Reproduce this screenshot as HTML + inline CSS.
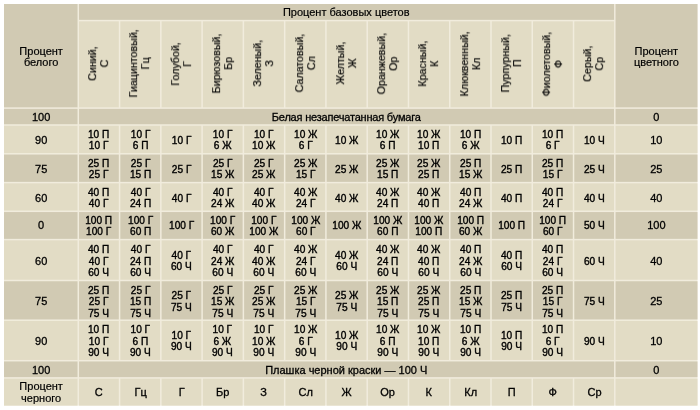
<!DOCTYPE html>
<html><head><meta charset="utf-8"><style>
html,body{margin:0;padding:0;background:#fff;width:700px;height:410px;overflow:hidden}
.t{position:absolute;display:flex;align-items:center;justify-content:center;text-align:center;font-family:"Liberation Sans",sans-serif;font-size:11px;line-height:11.5px;color:#000;white-space:nowrap;-webkit-text-stroke:0.4px #000;will-change:transform}
.r{transform:rotate(-90deg)}
.s{display:inline-block;transform:scaleX(0.92)}
.r{-webkit-text-stroke:0.2px #000}
.rs{display:inline-block;transform:translateX(1px) scaleX(0.97)}
</style></head><body>
<svg width="700" height="410" viewBox="0 0 700 410" style="position:absolute;left:0;top:0"><rect x="4.0" y="4.0" width="693.50" height="401.60" fill="#f1ecdd"/><rect x="4.00" y="4.00" width="73.55" height="103.35" fill="#d1cab3"/><rect x="615.56" y="4.00" width="81.94" height="103.35" fill="#d1cab3"/><rect x="79.05" y="4.00" width="535.01" height="15.85" fill="#d1cab3"/><rect x="79.05" y="21.35" width="39.77" height="86.00" fill="#e2dcc5"/><rect x="120.32" y="21.35" width="39.77" height="86.00" fill="#e2dcc5"/><rect x="161.59" y="21.35" width="39.77" height="86.00" fill="#e2dcc5"/><rect x="202.86" y="21.35" width="39.77" height="86.00" fill="#e2dcc5"/><rect x="244.13" y="21.35" width="39.77" height="86.00" fill="#e2dcc5"/><rect x="285.40" y="21.35" width="39.77" height="86.00" fill="#e2dcc5"/><rect x="326.67" y="21.35" width="39.77" height="86.00" fill="#e2dcc5"/><rect x="367.94" y="21.35" width="39.77" height="86.00" fill="#e2dcc5"/><rect x="409.21" y="21.35" width="39.77" height="86.00" fill="#e2dcc5"/><rect x="450.48" y="21.35" width="39.77" height="86.00" fill="#e2dcc5"/><rect x="491.75" y="21.35" width="39.77" height="86.00" fill="#e2dcc5"/><rect x="533.02" y="21.35" width="39.77" height="86.00" fill="#e2dcc5"/><rect x="574.29" y="21.35" width="39.77" height="86.00" fill="#e2dcc5"/><rect x="4.00" y="108.85" width="73.55" height="15.40" fill="#d1cab3"/><rect x="79.05" y="108.85" width="535.01" height="15.40" fill="#d1cab3"/><rect x="615.56" y="108.85" width="81.94" height="15.40" fill="#d1cab3"/><rect x="4.00" y="125.75" width="73.55" height="27.30" fill="#e2dcc5"/><rect x="79.05" y="125.75" width="39.77" height="27.30" fill="#e2dcc5"/><rect x="120.32" y="125.75" width="39.77" height="27.30" fill="#e2dcc5"/><rect x="161.59" y="125.75" width="39.77" height="27.30" fill="#e2dcc5"/><rect x="202.86" y="125.75" width="39.77" height="27.30" fill="#e2dcc5"/><rect x="244.13" y="125.75" width="39.77" height="27.30" fill="#e2dcc5"/><rect x="285.40" y="125.75" width="39.77" height="27.30" fill="#e2dcc5"/><rect x="326.67" y="125.75" width="39.77" height="27.30" fill="#e2dcc5"/><rect x="367.94" y="125.75" width="39.77" height="27.30" fill="#e2dcc5"/><rect x="409.21" y="125.75" width="39.77" height="27.30" fill="#e2dcc5"/><rect x="450.48" y="125.75" width="39.77" height="27.30" fill="#e2dcc5"/><rect x="491.75" y="125.75" width="39.77" height="27.30" fill="#e2dcc5"/><rect x="533.02" y="125.75" width="39.77" height="27.30" fill="#e2dcc5"/><rect x="574.29" y="125.75" width="39.77" height="27.30" fill="#e2dcc5"/><rect x="615.56" y="125.75" width="81.94" height="27.30" fill="#e2dcc5"/><rect x="4.00" y="154.55" width="73.55" height="27.30" fill="#d1cab3"/><rect x="79.05" y="154.55" width="39.77" height="27.30" fill="#d1cab3"/><rect x="120.32" y="154.55" width="39.77" height="27.30" fill="#d1cab3"/><rect x="161.59" y="154.55" width="39.77" height="27.30" fill="#d1cab3"/><rect x="202.86" y="154.55" width="39.77" height="27.30" fill="#d1cab3"/><rect x="244.13" y="154.55" width="39.77" height="27.30" fill="#d1cab3"/><rect x="285.40" y="154.55" width="39.77" height="27.30" fill="#d1cab3"/><rect x="326.67" y="154.55" width="39.77" height="27.30" fill="#d1cab3"/><rect x="367.94" y="154.55" width="39.77" height="27.30" fill="#d1cab3"/><rect x="409.21" y="154.55" width="39.77" height="27.30" fill="#d1cab3"/><rect x="450.48" y="154.55" width="39.77" height="27.30" fill="#d1cab3"/><rect x="491.75" y="154.55" width="39.77" height="27.30" fill="#d1cab3"/><rect x="533.02" y="154.55" width="39.77" height="27.30" fill="#d1cab3"/><rect x="574.29" y="154.55" width="39.77" height="27.30" fill="#d1cab3"/><rect x="615.56" y="154.55" width="81.94" height="27.30" fill="#d1cab3"/><rect x="4.00" y="183.35" width="73.55" height="27.20" fill="#e2dcc5"/><rect x="79.05" y="183.35" width="39.77" height="27.20" fill="#e2dcc5"/><rect x="120.32" y="183.35" width="39.77" height="27.20" fill="#e2dcc5"/><rect x="161.59" y="183.35" width="39.77" height="27.20" fill="#e2dcc5"/><rect x="202.86" y="183.35" width="39.77" height="27.20" fill="#e2dcc5"/><rect x="244.13" y="183.35" width="39.77" height="27.20" fill="#e2dcc5"/><rect x="285.40" y="183.35" width="39.77" height="27.20" fill="#e2dcc5"/><rect x="326.67" y="183.35" width="39.77" height="27.20" fill="#e2dcc5"/><rect x="367.94" y="183.35" width="39.77" height="27.20" fill="#e2dcc5"/><rect x="409.21" y="183.35" width="39.77" height="27.20" fill="#e2dcc5"/><rect x="450.48" y="183.35" width="39.77" height="27.20" fill="#e2dcc5"/><rect x="491.75" y="183.35" width="39.77" height="27.20" fill="#e2dcc5"/><rect x="533.02" y="183.35" width="39.77" height="27.20" fill="#e2dcc5"/><rect x="574.29" y="183.35" width="39.77" height="27.20" fill="#e2dcc5"/><rect x="615.56" y="183.35" width="81.94" height="27.20" fill="#e2dcc5"/><rect x="4.00" y="212.05" width="73.55" height="26.80" fill="#d1cab3"/><rect x="79.05" y="212.05" width="39.77" height="26.80" fill="#d1cab3"/><rect x="120.32" y="212.05" width="39.77" height="26.80" fill="#d1cab3"/><rect x="161.59" y="212.05" width="39.77" height="26.80" fill="#d1cab3"/><rect x="202.86" y="212.05" width="39.77" height="26.80" fill="#d1cab3"/><rect x="244.13" y="212.05" width="39.77" height="26.80" fill="#d1cab3"/><rect x="285.40" y="212.05" width="39.77" height="26.80" fill="#d1cab3"/><rect x="326.67" y="212.05" width="39.77" height="26.80" fill="#d1cab3"/><rect x="367.94" y="212.05" width="39.77" height="26.80" fill="#d1cab3"/><rect x="409.21" y="212.05" width="39.77" height="26.80" fill="#d1cab3"/><rect x="450.48" y="212.05" width="39.77" height="26.80" fill="#d1cab3"/><rect x="491.75" y="212.05" width="39.77" height="26.80" fill="#d1cab3"/><rect x="533.02" y="212.05" width="39.77" height="26.80" fill="#d1cab3"/><rect x="574.29" y="212.05" width="39.77" height="26.80" fill="#d1cab3"/><rect x="615.56" y="212.05" width="81.94" height="26.80" fill="#d1cab3"/><rect x="4.00" y="240.35" width="73.55" height="39.40" fill="#e2dcc5"/><rect x="79.05" y="240.35" width="39.77" height="39.40" fill="#e2dcc5"/><rect x="120.32" y="240.35" width="39.77" height="39.40" fill="#e2dcc5"/><rect x="161.59" y="240.35" width="39.77" height="39.40" fill="#e2dcc5"/><rect x="202.86" y="240.35" width="39.77" height="39.40" fill="#e2dcc5"/><rect x="244.13" y="240.35" width="39.77" height="39.40" fill="#e2dcc5"/><rect x="285.40" y="240.35" width="39.77" height="39.40" fill="#e2dcc5"/><rect x="326.67" y="240.35" width="39.77" height="39.40" fill="#e2dcc5"/><rect x="367.94" y="240.35" width="39.77" height="39.40" fill="#e2dcc5"/><rect x="409.21" y="240.35" width="39.77" height="39.40" fill="#e2dcc5"/><rect x="450.48" y="240.35" width="39.77" height="39.40" fill="#e2dcc5"/><rect x="491.75" y="240.35" width="39.77" height="39.40" fill="#e2dcc5"/><rect x="533.02" y="240.35" width="39.77" height="39.40" fill="#e2dcc5"/><rect x="574.29" y="240.35" width="39.77" height="39.40" fill="#e2dcc5"/><rect x="615.56" y="240.35" width="81.94" height="39.40" fill="#e2dcc5"/><rect x="4.00" y="281.25" width="73.55" height="38.20" fill="#d1cab3"/><rect x="79.05" y="281.25" width="39.77" height="38.20" fill="#d1cab3"/><rect x="120.32" y="281.25" width="39.77" height="38.20" fill="#d1cab3"/><rect x="161.59" y="281.25" width="39.77" height="38.20" fill="#d1cab3"/><rect x="202.86" y="281.25" width="39.77" height="38.20" fill="#d1cab3"/><rect x="244.13" y="281.25" width="39.77" height="38.20" fill="#d1cab3"/><rect x="285.40" y="281.25" width="39.77" height="38.20" fill="#d1cab3"/><rect x="326.67" y="281.25" width="39.77" height="38.20" fill="#d1cab3"/><rect x="367.94" y="281.25" width="39.77" height="38.20" fill="#d1cab3"/><rect x="409.21" y="281.25" width="39.77" height="38.20" fill="#d1cab3"/><rect x="450.48" y="281.25" width="39.77" height="38.20" fill="#d1cab3"/><rect x="491.75" y="281.25" width="39.77" height="38.20" fill="#d1cab3"/><rect x="533.02" y="281.25" width="39.77" height="38.20" fill="#d1cab3"/><rect x="574.29" y="281.25" width="39.77" height="38.20" fill="#d1cab3"/><rect x="615.56" y="281.25" width="81.94" height="38.20" fill="#d1cab3"/><rect x="4.00" y="320.95" width="73.55" height="39.00" fill="#e2dcc5"/><rect x="79.05" y="320.95" width="39.77" height="39.00" fill="#e2dcc5"/><rect x="120.32" y="320.95" width="39.77" height="39.00" fill="#e2dcc5"/><rect x="161.59" y="320.95" width="39.77" height="39.00" fill="#e2dcc5"/><rect x="202.86" y="320.95" width="39.77" height="39.00" fill="#e2dcc5"/><rect x="244.13" y="320.95" width="39.77" height="39.00" fill="#e2dcc5"/><rect x="285.40" y="320.95" width="39.77" height="39.00" fill="#e2dcc5"/><rect x="326.67" y="320.95" width="39.77" height="39.00" fill="#e2dcc5"/><rect x="367.94" y="320.95" width="39.77" height="39.00" fill="#e2dcc5"/><rect x="409.21" y="320.95" width="39.77" height="39.00" fill="#e2dcc5"/><rect x="450.48" y="320.95" width="39.77" height="39.00" fill="#e2dcc5"/><rect x="491.75" y="320.95" width="39.77" height="39.00" fill="#e2dcc5"/><rect x="533.02" y="320.95" width="39.77" height="39.00" fill="#e2dcc5"/><rect x="574.29" y="320.95" width="39.77" height="39.00" fill="#e2dcc5"/><rect x="615.56" y="320.95" width="81.94" height="39.00" fill="#e2dcc5"/><rect x="4.00" y="361.45" width="73.55" height="15.70" fill="#d1cab3"/><rect x="79.05" y="361.45" width="535.01" height="15.70" fill="#d1cab3"/><rect x="615.56" y="361.45" width="81.94" height="15.70" fill="#d1cab3"/><rect x="4.00" y="378.65" width="73.55" height="26.95" fill="#e2dcc5"/><rect x="79.05" y="378.65" width="39.77" height="26.95" fill="#e2dcc5"/><rect x="120.32" y="378.65" width="39.77" height="26.95" fill="#e2dcc5"/><rect x="161.59" y="378.65" width="39.77" height="26.95" fill="#e2dcc5"/><rect x="202.86" y="378.65" width="39.77" height="26.95" fill="#e2dcc5"/><rect x="244.13" y="378.65" width="39.77" height="26.95" fill="#e2dcc5"/><rect x="285.40" y="378.65" width="39.77" height="26.95" fill="#e2dcc5"/><rect x="326.67" y="378.65" width="39.77" height="26.95" fill="#e2dcc5"/><rect x="367.94" y="378.65" width="39.77" height="26.95" fill="#e2dcc5"/><rect x="409.21" y="378.65" width="39.77" height="26.95" fill="#e2dcc5"/><rect x="450.48" y="378.65" width="39.77" height="26.95" fill="#e2dcc5"/><rect x="491.75" y="378.65" width="39.77" height="26.95" fill="#e2dcc5"/><rect x="533.02" y="378.65" width="39.77" height="26.95" fill="#e2dcc5"/><rect x="574.29" y="378.65" width="39.77" height="26.95" fill="#e2dcc5"/><rect x="615.56" y="378.65" width="81.94" height="26.95" fill="#e2dcc5"/></svg>
<div class="t" style="left:4.00px;top:5.00px;width:74.30px;height:104.10px;-webkit-text-stroke-width:0.2px">Процент<br>белого</div><div class="t" style="left:614.81px;top:5.00px;width:82.69px;height:104.10px;-webkit-text-stroke-width:0.2px">Процент<br>цветного</div><div class="t" style="left:78.30px;top:4.00px;width:536.51px;height:16.60px;-webkit-text-stroke-width:0.2px">Процент базовых цветов</div><div class="t r" style="left:55.19px;top:43.71px;width:87.50px;height:41.27px"><span class="rs">Синий,<br>С</span></div><div class="t r" style="left:96.45px;top:43.71px;width:87.50px;height:41.27px"><span class="rs">Гиацинтовый,<br>Гц</span></div><div class="t r" style="left:137.73px;top:43.71px;width:87.50px;height:41.27px"><span class="rs">Голубой,<br>Г</span></div><div class="t r" style="left:179.00px;top:43.72px;width:87.50px;height:41.27px"><span class="rs">Бирюзовый,<br>Бр</span></div><div class="t r" style="left:220.26px;top:43.71px;width:87.50px;height:41.27px"><span class="rs">Зеленый,<br>З</span></div><div class="t r" style="left:261.54px;top:43.72px;width:87.50px;height:41.27px"><span class="rs">Салатовый,<br>Сл</span></div><div class="t r" style="left:302.81px;top:43.71px;width:87.50px;height:41.27px"><span class="rs">Желтый,<br>Ж</span></div><div class="t r" style="left:344.08px;top:43.72px;width:87.50px;height:41.27px"><span class="rs">Оранжевый,<br>Ор</span></div><div class="t r" style="left:385.35px;top:43.72px;width:87.50px;height:41.27px"><span class="rs">Красный,<br>К</span></div><div class="t r" style="left:426.62px;top:43.71px;width:87.50px;height:41.27px"><span class="rs">Клюквенный,<br>Кл</span></div><div class="t r" style="left:467.88px;top:43.72px;width:87.50px;height:41.27px"><span class="rs">Пурпурный,<br>П</span></div><div class="t r" style="left:509.15px;top:43.72px;width:87.50px;height:41.27px"><span class="rs">Фиолетовый,<br>Ф</span></div><div class="t r" style="left:550.42px;top:43.72px;width:87.50px;height:41.27px"><span class="rs">Серый,<br>Ср</span></div><div class="t" style="left:4.00px;top:109.10px;width:74.30px;height:16.90px;-webkit-text-stroke-width:0.3px">100</div><div class="t" style="left:78.30px;top:109.10px;width:536.51px;height:16.90px;letter-spacing:-0.2px;-webkit-text-stroke-width:0.3px">Белая незапечатанная бумага</div><div class="t" style="left:614.81px;top:109.10px;width:82.69px;height:16.90px;-webkit-text-stroke-width:0.3px">0</div><div class="t" style="left:4.00px;top:126.00px;width:74.30px;height:28.80px;-webkit-text-stroke-width:0.3px">90</div><div class="t" style="left:78.30px;top:126.00px;width:41.27px;height:28.80px"><span class="s">10 П<br>10 Г</span></div><div class="t" style="left:119.57px;top:126.00px;width:41.27px;height:28.80px"><span class="s">10 Г<br>6 П</span></div><div class="t" style="left:160.84px;top:126.00px;width:41.27px;height:28.80px"><span class="s">10 Г</span></div><div class="t" style="left:202.11px;top:126.00px;width:41.27px;height:28.80px"><span class="s">10 Г<br>6 Ж</span></div><div class="t" style="left:243.38px;top:126.00px;width:41.27px;height:28.80px"><span class="s">10 Г<br>10 Ж</span></div><div class="t" style="left:284.65px;top:126.00px;width:41.27px;height:28.80px"><span class="s">10 Ж<br>6 Г</span></div><div class="t" style="left:325.92px;top:126.00px;width:41.27px;height:28.80px"><span class="s">10 Ж</span></div><div class="t" style="left:367.19px;top:126.00px;width:41.27px;height:28.80px"><span class="s">10 Ж<br>6 П</span></div><div class="t" style="left:408.46px;top:126.00px;width:41.27px;height:28.80px"><span class="s">10 Ж<br>10 П</span></div><div class="t" style="left:449.73px;top:126.00px;width:41.27px;height:28.80px"><span class="s">10 П<br>6 Ж</span></div><div class="t" style="left:491.00px;top:126.00px;width:41.27px;height:28.80px"><span class="s">10 П</span></div><div class="t" style="left:532.27px;top:126.00px;width:41.27px;height:28.80px"><span class="s">10 П<br>6 Г</span></div><div class="t" style="left:573.54px;top:126.00px;width:41.27px;height:28.80px"><span class="s">10 Ч</span></div><div class="t" style="left:614.81px;top:126.00px;width:82.69px;height:28.80px;-webkit-text-stroke-width:0.3px">10</div><div class="t" style="left:4.00px;top:154.80px;width:74.30px;height:28.80px;-webkit-text-stroke-width:0.3px">75</div><div class="t" style="left:78.30px;top:154.80px;width:41.27px;height:28.80px"><span class="s">25 П<br>25 Г</span></div><div class="t" style="left:119.57px;top:154.80px;width:41.27px;height:28.80px"><span class="s">25 Г<br>15 П</span></div><div class="t" style="left:160.84px;top:154.80px;width:41.27px;height:28.80px"><span class="s">25 Г</span></div><div class="t" style="left:202.11px;top:154.80px;width:41.27px;height:28.80px"><span class="s">25 Г<br>15 Ж</span></div><div class="t" style="left:243.38px;top:154.80px;width:41.27px;height:28.80px"><span class="s">25 Г<br>25 Ж</span></div><div class="t" style="left:284.65px;top:154.80px;width:41.27px;height:28.80px"><span class="s">25 Ж<br>15 Г</span></div><div class="t" style="left:325.92px;top:154.80px;width:41.27px;height:28.80px"><span class="s">25 Ж</span></div><div class="t" style="left:367.19px;top:154.80px;width:41.27px;height:28.80px"><span class="s">25 Ж<br>15 П</span></div><div class="t" style="left:408.46px;top:154.80px;width:41.27px;height:28.80px"><span class="s">25 Ж<br>25 П</span></div><div class="t" style="left:449.73px;top:154.80px;width:41.27px;height:28.80px"><span class="s">25 П<br>15 Ж</span></div><div class="t" style="left:491.00px;top:154.80px;width:41.27px;height:28.80px"><span class="s">25 П</span></div><div class="t" style="left:532.27px;top:154.80px;width:41.27px;height:28.80px"><span class="s">25 П<br>15 Г</span></div><div class="t" style="left:573.54px;top:154.80px;width:41.27px;height:28.80px"><span class="s">25 Ч</span></div><div class="t" style="left:614.81px;top:154.80px;width:82.69px;height:28.80px;-webkit-text-stroke-width:0.3px">25</div><div class="t" style="left:4.00px;top:183.60px;width:74.30px;height:28.70px;-webkit-text-stroke-width:0.3px">60</div><div class="t" style="left:78.30px;top:183.60px;width:41.27px;height:28.70px"><span class="s">40 П<br>40 Г</span></div><div class="t" style="left:119.57px;top:183.60px;width:41.27px;height:28.70px"><span class="s">40 Г<br>24 П</span></div><div class="t" style="left:160.84px;top:183.60px;width:41.27px;height:28.70px"><span class="s">40 Г</span></div><div class="t" style="left:202.11px;top:183.60px;width:41.27px;height:28.70px"><span class="s">40 Г<br>24 Ж</span></div><div class="t" style="left:243.38px;top:183.60px;width:41.27px;height:28.70px"><span class="s">40 Г<br>40 Ж</span></div><div class="t" style="left:284.65px;top:183.60px;width:41.27px;height:28.70px"><span class="s">40 Ж<br>24 Г</span></div><div class="t" style="left:325.92px;top:183.60px;width:41.27px;height:28.70px"><span class="s">40 Ж</span></div><div class="t" style="left:367.19px;top:183.60px;width:41.27px;height:28.70px"><span class="s">40 Ж<br>24 П</span></div><div class="t" style="left:408.46px;top:183.60px;width:41.27px;height:28.70px"><span class="s">40 Ж<br>40 П</span></div><div class="t" style="left:449.73px;top:183.60px;width:41.27px;height:28.70px"><span class="s">40 П<br>24 Ж</span></div><div class="t" style="left:491.00px;top:183.60px;width:41.27px;height:28.70px"><span class="s">40 П</span></div><div class="t" style="left:532.27px;top:183.60px;width:41.27px;height:28.70px"><span class="s">40 П<br>24 Г</span></div><div class="t" style="left:573.54px;top:183.60px;width:41.27px;height:28.70px"><span class="s">40 Ч</span></div><div class="t" style="left:614.81px;top:183.60px;width:82.69px;height:28.70px;-webkit-text-stroke-width:0.3px">40</div><div class="t" style="left:4.00px;top:212.30px;width:74.30px;height:28.30px;-webkit-text-stroke-width:0.3px">0</div><div class="t" style="left:78.30px;top:212.30px;width:41.27px;height:28.30px"><span class="s">100 П<br>100 Г</span></div><div class="t" style="left:119.57px;top:212.30px;width:41.27px;height:28.30px"><span class="s">100 Г<br>60 П</span></div><div class="t" style="left:160.84px;top:212.30px;width:41.27px;height:28.30px"><span class="s">100 Г</span></div><div class="t" style="left:202.11px;top:212.30px;width:41.27px;height:28.30px"><span class="s">100 Г<br>60 Ж</span></div><div class="t" style="left:243.38px;top:212.30px;width:41.27px;height:28.30px"><span class="s">100 Г<br>100 Ж</span></div><div class="t" style="left:284.65px;top:212.30px;width:41.27px;height:28.30px"><span class="s">100 Ж<br>60 Г</span></div><div class="t" style="left:325.92px;top:212.30px;width:41.27px;height:28.30px"><span class="s">100 Ж</span></div><div class="t" style="left:367.19px;top:212.30px;width:41.27px;height:28.30px"><span class="s">100 Ж<br>60 П</span></div><div class="t" style="left:408.46px;top:212.30px;width:41.27px;height:28.30px"><span class="s">100 Ж<br>100 П</span></div><div class="t" style="left:449.73px;top:212.30px;width:41.27px;height:28.30px"><span class="s">100 П<br>60 Ж</span></div><div class="t" style="left:491.00px;top:212.30px;width:41.27px;height:28.30px"><span class="s">100 П</span></div><div class="t" style="left:532.27px;top:212.30px;width:41.27px;height:28.30px"><span class="s">100 П<br>60 Г</span></div><div class="t" style="left:573.54px;top:212.30px;width:41.27px;height:28.30px"><span class="s">50 Ч</span></div><div class="t" style="left:614.81px;top:212.30px;width:82.69px;height:28.30px;-webkit-text-stroke-width:0.3px">100</div><div class="t" style="left:4.00px;top:240.60px;width:74.30px;height:40.90px;-webkit-text-stroke-width:0.3px">60</div><div class="t" style="left:78.30px;top:240.60px;width:41.27px;height:40.90px"><span class="s">40 П<br>40 Г<br>60 Ч</span></div><div class="t" style="left:119.57px;top:240.60px;width:41.27px;height:40.90px"><span class="s">40 Г<br>24 П<br>60 Ч</span></div><div class="t" style="left:160.84px;top:240.60px;width:41.27px;height:40.90px"><span class="s">40 Г<br>60 Ч</span></div><div class="t" style="left:202.11px;top:240.60px;width:41.27px;height:40.90px"><span class="s">40 Г<br>24 Ж<br>60 Ч</span></div><div class="t" style="left:243.38px;top:240.60px;width:41.27px;height:40.90px"><span class="s">40 Г<br>40 Ж<br>60 Ч</span></div><div class="t" style="left:284.65px;top:240.60px;width:41.27px;height:40.90px"><span class="s">40 Ж<br>24 Г<br>60 Ч</span></div><div class="t" style="left:325.92px;top:240.60px;width:41.27px;height:40.90px"><span class="s">40 Ж<br>60 Ч</span></div><div class="t" style="left:367.19px;top:240.60px;width:41.27px;height:40.90px"><span class="s">40 Ж<br>24 П<br>60 Ч</span></div><div class="t" style="left:408.46px;top:240.60px;width:41.27px;height:40.90px"><span class="s">40 Ж<br>40 П<br>60 Ч</span></div><div class="t" style="left:449.73px;top:240.60px;width:41.27px;height:40.90px"><span class="s">40 П<br>24 Ж<br>60 Ч</span></div><div class="t" style="left:491.00px;top:240.60px;width:41.27px;height:40.90px"><span class="s">40 П<br>60 Ч</span></div><div class="t" style="left:532.27px;top:240.60px;width:41.27px;height:40.90px"><span class="s">40 П<br>24 Г<br>60 Ч</span></div><div class="t" style="left:573.54px;top:240.60px;width:41.27px;height:40.90px"><span class="s">60 Ч</span></div><div class="t" style="left:614.81px;top:240.60px;width:82.69px;height:40.90px;-webkit-text-stroke-width:0.3px">40</div><div class="t" style="left:4.00px;top:281.50px;width:74.30px;height:39.70px;-webkit-text-stroke-width:0.3px">75</div><div class="t" style="left:78.30px;top:281.50px;width:41.27px;height:39.70px"><span class="s">25 П<br>25 Г<br>75 Ч</span></div><div class="t" style="left:119.57px;top:281.50px;width:41.27px;height:39.70px"><span class="s">25 Г<br>15 П<br>75 Ч</span></div><div class="t" style="left:160.84px;top:281.50px;width:41.27px;height:39.70px"><span class="s">25 Г<br>75 Ч</span></div><div class="t" style="left:202.11px;top:281.50px;width:41.27px;height:39.70px"><span class="s">25 Г<br>15 Ж<br>75 Ч</span></div><div class="t" style="left:243.38px;top:281.50px;width:41.27px;height:39.70px"><span class="s">25 Г<br>25 Ж<br>75 Ч</span></div><div class="t" style="left:284.65px;top:281.50px;width:41.27px;height:39.70px"><span class="s">25 Ж<br>15 Г<br>75 Ч</span></div><div class="t" style="left:325.92px;top:281.50px;width:41.27px;height:39.70px"><span class="s">25 Ж<br>75 Ч</span></div><div class="t" style="left:367.19px;top:281.50px;width:41.27px;height:39.70px"><span class="s">25 Ж<br>15 П<br>75 Ч</span></div><div class="t" style="left:408.46px;top:281.50px;width:41.27px;height:39.70px"><span class="s">25 Ж<br>25 П<br>75 Ч</span></div><div class="t" style="left:449.73px;top:281.50px;width:41.27px;height:39.70px"><span class="s">25 П<br>15 Ж<br>75 Ч</span></div><div class="t" style="left:491.00px;top:281.50px;width:41.27px;height:39.70px"><span class="s">25 П<br>75 Ч</span></div><div class="t" style="left:532.27px;top:281.50px;width:41.27px;height:39.70px"><span class="s">25 П<br>15 Г<br>75 Ч</span></div><div class="t" style="left:573.54px;top:281.50px;width:41.27px;height:39.70px"><span class="s">75 Ч</span></div><div class="t" style="left:614.81px;top:281.50px;width:82.69px;height:39.70px;-webkit-text-stroke-width:0.3px">25</div><div class="t" style="left:4.00px;top:321.20px;width:74.30px;height:40.50px;-webkit-text-stroke-width:0.3px">90</div><div class="t" style="left:78.30px;top:321.20px;width:41.27px;height:40.50px"><span class="s">10 П<br>10 Г<br>90 Ч</span></div><div class="t" style="left:119.57px;top:321.20px;width:41.27px;height:40.50px"><span class="s">10 Г<br>6 П<br>90 Ч</span></div><div class="t" style="left:160.84px;top:321.20px;width:41.27px;height:40.50px"><span class="s">10 Г<br>90 Ч</span></div><div class="t" style="left:202.11px;top:321.20px;width:41.27px;height:40.50px"><span class="s">10 Г<br>6 Ж<br>90 Ч</span></div><div class="t" style="left:243.38px;top:321.20px;width:41.27px;height:40.50px"><span class="s">10 Г<br>10 Ж<br>90 Ч</span></div><div class="t" style="left:284.65px;top:321.20px;width:41.27px;height:40.50px"><span class="s">10 Ж<br>6 Г<br>90 Ч</span></div><div class="t" style="left:325.92px;top:321.20px;width:41.27px;height:40.50px"><span class="s">10 Ж<br>90 Ч</span></div><div class="t" style="left:367.19px;top:321.20px;width:41.27px;height:40.50px"><span class="s">10 Ж<br>6 П<br>90 Ч</span></div><div class="t" style="left:408.46px;top:321.20px;width:41.27px;height:40.50px"><span class="s">10 Ж<br>10 П<br>90 Ч</span></div><div class="t" style="left:449.73px;top:321.20px;width:41.27px;height:40.50px"><span class="s">10 П<br>6 Ж<br>90 Ч</span></div><div class="t" style="left:491.00px;top:321.20px;width:41.27px;height:40.50px"><span class="s">10 П<br>90 Ч</span></div><div class="t" style="left:532.27px;top:321.20px;width:41.27px;height:40.50px"><span class="s">10 П<br>6 Г<br>90 Ч</span></div><div class="t" style="left:573.54px;top:321.20px;width:41.27px;height:40.50px"><span class="s">90 Ч</span></div><div class="t" style="left:614.81px;top:321.20px;width:82.69px;height:40.50px;-webkit-text-stroke-width:0.3px">10</div><div class="t" style="left:4.00px;top:361.70px;width:74.30px;height:17.20px;-webkit-text-stroke-width:0.3px">100</div><div class="t" style="left:78.30px;top:361.70px;width:536.51px;height:17.20px;-webkit-text-stroke-width:0.3px">Плашка черной краски — 100 Ч</div><div class="t" style="left:614.81px;top:361.70px;width:82.69px;height:17.20px;-webkit-text-stroke-width:0.3px">0</div><div class="t" style="left:4.00px;top:378.90px;width:74.30px;height:27.70px;-webkit-text-stroke-width:0.2px">Процент<br>черного</div><div class="t" style="left:78.30px;top:378.90px;width:41.27px;height:27.70px;-webkit-text-stroke-width:0.3px">С</div><div class="t" style="left:119.57px;top:378.90px;width:41.27px;height:27.70px;-webkit-text-stroke-width:0.3px">Гц</div><div class="t" style="left:160.84px;top:378.90px;width:41.27px;height:27.70px;-webkit-text-stroke-width:0.3px">Г</div><div class="t" style="left:202.11px;top:378.90px;width:41.27px;height:27.70px;-webkit-text-stroke-width:0.3px">Бр</div><div class="t" style="left:243.38px;top:378.90px;width:41.27px;height:27.70px;-webkit-text-stroke-width:0.3px">З</div><div class="t" style="left:284.65px;top:378.90px;width:41.27px;height:27.70px;-webkit-text-stroke-width:0.3px">Сл</div><div class="t" style="left:325.92px;top:378.90px;width:41.27px;height:27.70px;-webkit-text-stroke-width:0.3px">Ж</div><div class="t" style="left:367.19px;top:378.90px;width:41.27px;height:27.70px;-webkit-text-stroke-width:0.3px">Ор</div><div class="t" style="left:408.46px;top:378.90px;width:41.27px;height:27.70px;-webkit-text-stroke-width:0.3px">К</div><div class="t" style="left:449.73px;top:378.90px;width:41.27px;height:27.70px;-webkit-text-stroke-width:0.3px">Кл</div><div class="t" style="left:491.00px;top:378.90px;width:41.27px;height:27.70px;-webkit-text-stroke-width:0.3px">П</div><div class="t" style="left:532.27px;top:378.90px;width:41.27px;height:27.70px;-webkit-text-stroke-width:0.3px">Ф</div><div class="t" style="left:573.54px;top:378.90px;width:41.27px;height:27.70px;-webkit-text-stroke-width:0.3px">Ср</div>
</body></html>
